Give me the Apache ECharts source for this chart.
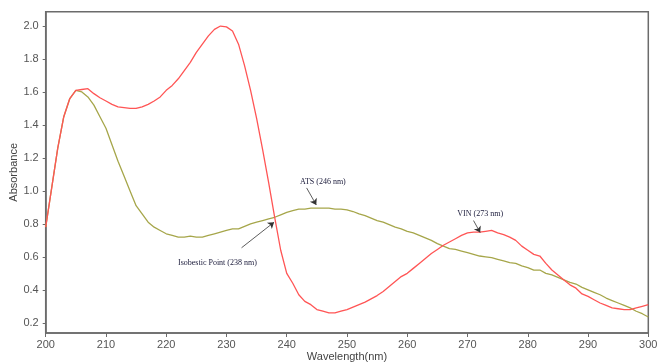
<!DOCTYPE html>
<html><head><meta charset="utf-8">
<script src="https://cdn.jsdelivr.net/npm/echarts@6/dist/echarts.min.js"></script>
<style>html,body{margin:0;padding:0;background:#fff}#c{width:657px;height:364px}</style>
</head><body><div id="c"></div>
<script>
const wavelengths = [200,201,202,203,204,205,206,207,208,209,210,211,212,213,214,215,216,217,218,219,220,221,222,223,224,225,226,227,228,229,230,231,232,233,234,235,236,237,238,239,240,241,242,243,244,245,246,247,248,249,250,251,252,253,254,255,256,257,258,259,260,261,262,263,264,265,266,267,268,269,270,271,272,273,274,275,276,277,278,279,280,281,282,283,284,285,286,287,288,289,290,291,292,293,294,295,296,297,298,299,300];
const vin = [0.78,1.02,1.26,1.45,1.56,1.61,1.615,1.62,1.59,1.565,1.545,1.525,1.51,1.505,1.50,1.50,1.51,1.525,1.545,1.57,1.61,1.64,1.68,1.73,1.78,1.84,1.89,1.94,1.98,2.0,1.995,1.97,1.89,1.76,1.61,1.44,1.25,1.05,0.84,0.64,0.50,0.44,0.37,0.33,0.31,0.28,0.27,0.26,0.26,0.27,0.28,0.295,0.31,0.325,0.345,0.365,0.39,0.42,0.45,0.48,0.50,0.53,0.56,0.59,0.62,0.645,0.67,0.69,0.71,0.73,0.745,0.75,0.75,0.755,0.76,0.745,0.735,0.72,0.70,0.665,0.64,0.615,0.605,0.56,0.52,0.49,0.46,0.43,0.41,0.375,0.36,0.34,0.32,0.305,0.29,0.285,0.28,0.28,0.29,0.30,0.31];
const ats = [0.78,1.02,1.26,1.45,1.56,1.61,1.60,1.57,1.52,1.45,1.38,1.28,1.18,1.09,1.00,0.91,0.86,0.81,0.78,0.76,0.74,0.73,0.72,0.72,0.725,0.72,0.72,0.73,0.74,0.75,0.76,0.77,0.77,0.785,0.80,0.81,0.82,0.83,0.84,0.855,0.87,0.88,0.89,0.89,0.895,0.895,0.895,0.895,0.89,0.89,0.885,0.875,0.86,0.85,0.835,0.82,0.81,0.795,0.78,0.77,0.755,0.745,0.73,0.715,0.70,0.68,0.665,0.65,0.645,0.635,0.625,0.615,0.605,0.60,0.595,0.585,0.575,0.565,0.56,0.545,0.535,0.52,0.52,0.50,0.49,0.475,0.46,0.445,0.435,0.415,0.40,0.385,0.37,0.35,0.335,0.32,0.305,0.29,0.27,0.255,0.235];
const yTicks = [0.2,0.4,0.6,0.8,1.0,1.2,1.4,1.6,1.8,2.0];
const annotations = [
  {text:'ATS (246 nm)', label:[246.0,1.055], from:[243.3,1.018], to:[244.9,0.915]},
  {text:'Isobestic Point (238 nm)', label:[228.5,0.564], from:[232.5,0.655], to:[237.9,0.81]},
  {text:'VIN (273 nm)', label:[272.1,0.861], from:[271.0,0.82], to:[272.1,0.747]}
];

const pair = (ys) => wavelengths.map((w,i)=>[w, ys[i]]);
const chart = echarts.init(document.getElementById('c'), null, {renderer:'canvas'});
const axisLine = {show:true, lineStyle:{color:'#6b6b6b', width:1.5}};
chart.setOption({
  animation:false,
  backgroundColor:'#fff',
  grid:{left:45.7, right:8.7, top:11.7, bottom:31, show:true, borderColor:'#6b6b6b', borderWidth:1.5, containLabel:false, outerBoundsMode:'none'},
  xAxis:{type:'value', min:200, max:300, interval:10,
    name:'Wavelength(nm)', nameLocation:'middle', nameGap:18, nameMoveOverlap:false,
    nameTextStyle:{color:'#444', fontSize:11, fontFamily:'Liberation Sans, Arial'},
    axisLine:axisLine, axisTick:{show:true, length:4, lineStyle:{color:'#6b6b6b'}},
    axisLabel:{color:'#555', fontSize:11, fontFamily:'Liberation Sans, Arial', margin:6},
    splitLine:{show:false}},
  yAxis:{type:'value', min:0.138, max:2.087,
    name:'Absorbance', nameLocation:'middle', nameGap:26, nameRotate:90, nameMoveOverlap:false,
    nameTextStyle:{color:'#444', fontSize:11, fontFamily:'Liberation Sans, Arial'},
    axisLine:axisLine,
    axisTick:{show:true, length:3, customValues:yTicks, lineStyle:{color:'#6b6b6b'}},
    axisLabel:{color:'#555', fontSize:11, fontFamily:'Liberation Sans, Arial', margin:7, customValues:yTicks, formatter:v=>v.toFixed(1)},
    splitLine:{show:false}},
  series:[
    {type:'line', name:'ATS', data:pair(ats), showSymbol:false, smooth:false,
      lineStyle:{color:'#a6a64a', width:1.3}, z:2},
    {type:'line', name:'VIN', data:pair(vin), showSymbol:false, smooth:false,
      lineStyle:{color:'#ff5555', width:1.3}, z:3,
      markLine:{silent:true, symbol:['none','arrow'], symbolSize:6,
        lineStyle:{color:'#333', width:0.8, type:'solid'}, label:{show:false},
        data:annotations.map(a=>[{coord:a.from},{coord:a.to}])},
      markPoint:{silent:true, symbol:'circle', symbolSize:0,
        label:{show:true, position:'inside', color:'#1a1a3a', fontSize:8, fontFamily:'Liberation Serif, Times New Roman', formatter:p=>p.name},
        data:annotations.map(a=>({name:a.text, coord:a.label}))}}
  ]
});
</script></body></html>
